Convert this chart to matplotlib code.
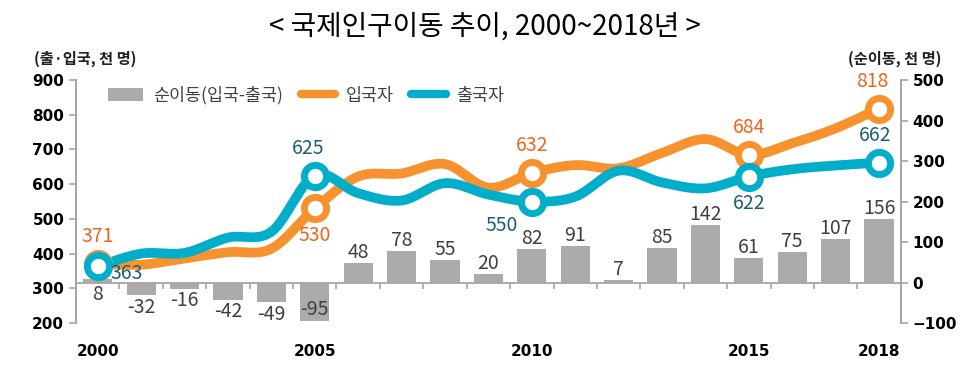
import numpy as np
import matplotlib
matplotlib.use("Agg")
import matplotlib.pyplot as plt
from matplotlib.patches import Patch
from matplotlib.lines import Line2D

plt.rcParams['font.family'] = ['Noto Sans CJK KR', 'DejaVu Sans']

years = list(range(2000, 2019))
inflow = [371, 368, 386, 404, 414, 530, 622, 631, 658, 590, 632, 655, 646, 690, 730, 684, 718, 761, 818]
outflow = [363, 400, 402, 446, 463, 625, 574, 553, 603, 570, 550, 564, 639, 605, 588, 622, 643, 654, 662]
net = [8, -32, -16, -42, -49, -95, 48, 78, 55, 20, 82, 91, 7, 85, 142, 61, 75, 107, 156]
label_years = [2000, 2005, 2010, 2015, 2018]
title = "< 국제인구이동 추이, 2000~2018년 >"
left_unit = "(출·입국, 천 명)"
right_unit = "(순이동, 천 명)"
legend_labels = ["순이동(입국-출국)", "입국자", "출국자"]

C_IN = "#F7922F"
C_OUT = "#00AEC9"
C_IN_TXT = "#F0641E"
C_OUT_TXT = "#1D5F72"
C_BAR = "#ABABAB"
C_AX = "#A6A6A6"
C_TXT = "#404040"


def smooth(x, y, n=30):
    x = np.asarray(x, float)
    y = np.asarray(y, float)
    px = np.concatenate([[x[0]], x, [x[-1]]])
    py = np.concatenate([[y[0]], y, [y[-1]]])
    xs, ys = [], []
    t = np.linspace(0, 1, n, endpoint=False)
    for i in range(1, len(px) - 2):
        p0x, p1x, p2x, p3x = px[i - 1], px[i], px[i + 1], px[i + 2]
        p0y, p1y, p2y, p3y = py[i - 1], py[i], py[i + 1], py[i + 2]
        c1x = p1x + (p2x - p0x) / 6
        c1y = p1y + (p2y - p0y) / 6
        c2x = p2x - (p3x - p1x) / 6
        c2y = p2y - (p3y - p1y) / 6
        b = lambda a, c1, c2, d: ((1 - t) ** 3) * a + 3 * ((1 - t) ** 2) * t * c1 + 3 * (1 - t) * t ** 2 * c2 + t ** 3 * d
        xs.append(b(p1x, c1x, c2x, p2x))
        ys.append(b(p1y, c1y, c2y, p2y))
    xs.append([x[-1]])
    ys.append([y[-1]])
    return np.concatenate(xs), np.concatenate(ys)


fig = plt.figure(figsize=(9.7, 3.76), dpi=100)
axb = fig.add_axes([0.0784, 0.141, 0.8502, 0.646])
axl = axb.twinx()

idx = np.arange(len(years))

# bars (right scale)
axb.bar(idx, net, width=0.67, color=C_BAR, zorder=2)
axb.set_ylim(-100, 500)
axb.set_xlim(-0.5, len(years) - 0.5)
axb.yaxis.tick_right()
axb.yaxis.set_label_position("right")
axb.set_yticks(range(-100, 501, 100))

# lines (left scale)
axl.set_ylim(200, 900)
axl.yaxis.tick_left()
axl.set_yticks(range(200, 901, 100))
for vals, col in [(inflow, C_IN), (outflow, C_OUT)]:
    sx, sy = smooth(idx, vals)
    axl.plot(sx, sy, color=col, lw=7, solid_capstyle='round', zorder=3)
    mk = [years.index(y) for y in label_years]
    axl.plot([idx[i] for i in mk], [vals[i] for i in mk], 'o', ms=16,
             mfc='white', mec=col, mew=5, zorder=4, linestyle='none')

# spines
for ax in (axb, axl):
    ax.spines['top'].set_visible(False)
    ax.spines['bottom'].set_visible(False)
    ax.spines['left'].set_color(C_AX)
    ax.spines['right'].set_color(C_AX)
    ax.spines['left'].set_linewidth(1.3)
    ax.spines['right'].set_linewidth(1.3)
axb.tick_params(axis='y', colors=C_AX, labelcolor='black', length=5, width=1.2, labelsize=11)
axl.tick_params(axis='y', colors=C_AX, labelcolor='black', length=5, width=1.2, labelsize=11)
for lab in axb.get_yticklabels() + axl.get_yticklabels():
    lab.set_fontweight('bold')
    lab.set_family(['DejaVu Sans'])

# x axis on zero line
axb.spines['bottom'].set_visible(True)
axb.spines['bottom'].set_position(('data', 0))
axb.spines['bottom'].set_color(C_AX)
axb.spines['bottom'].set_linewidth(1.3)
axb.set_xticks([years.index(y) for y in label_years])
axb.set_xticklabels([str(y) for y in label_years], fontweight='bold', fontsize=11, family=['DejaVu Sans'])
axb.set_xticks(np.arange(-0.5, len(years)), minor=True)
axb.tick_params(axis='x', which='major', length=0, pad=44, labelcolor='black')
axb.tick_params(axis='x', which='minor', length=4, width=1.2, color=C_AX, direction='out')

# bar labels
for i, v in enumerate(net):
    if v < -80:
        axb.annotate(str(v), (i, v), xytext=(0, 1), textcoords='offset points',
                     ha='center', va='bottom', fontsize=14, color=C_TXT, zorder=5)
    elif v < 0 or years[i] == 2000:
        axb.annotate(str(v), (i, min(v, 0)), xytext=(0, -1), textcoords='offset points',
                     ha='center', va='top', fontsize=14, color=C_TXT, zorder=5)
    else:
        axb.annotate(str(v), (i, v), xytext=(0, 0), textcoords='offset points',
                     ha='center', va='bottom', fontsize=14, color=C_TXT, zorder=5)

# line labels
in_off = {2000: (0, 12, 'bottom'), 2005: (0, -12, 'top'), 2010: (0, 12, 'bottom'),
          2015: (0, 12, 'bottom'), 2018: (-5, 12, 'bottom')}
out_off = {2000: (21, -5, 'center'), 2005: (-5, 12, 'bottom'), 2010: (-22, -10, 'top'),
           2015: (0, -12, 'top'), 2018: (-3, 12, 'bottom')}
for y in label_years:
    i = years.index(y)
    dx, dy, va = in_off[y]
    axl.annotate(str(inflow[i]), (i, inflow[i]), xytext=(dx, dy), textcoords='offset points',
                 ha='center', va=va, fontsize=14, color=C_IN_TXT, zorder=6)
    dx, dy, va = out_off[y]
    axl.annotate(str(outflow[i]), (i, outflow[i]), xytext=(dx, dy), textcoords='offset points',
                 ha='center', va=va, fontsize=14, color=C_OUT_TXT, zorder=6)

# legend
handles = [Patch(facecolor=C_BAR, edgecolor='none'),
           Line2D([0], [0], color=C_IN, lw=6, solid_capstyle='round'),
           Line2D([0], [0], color=C_OUT, lw=6, solid_capstyle='round')]
leg = axl.legend(handles, legend_labels, loc='upper left', bbox_to_anchor=(0.02, 1.04),
                 ncol=3, frameon=False, fontsize=12.5, handlelength=2.0, columnspacing=1.0,
                 handletextpad=0.6)
for t in leg.get_texts():
    t.set_color(C_TXT)

fig.text(0.5, 0.93, title, ha='center', va='center', fontsize=20, fontweight='medium', color='black')
fig.text(0.035, 0.843, left_unit, ha='left', va='center', fontsize=11, fontweight='bold', color='#202020')
fig.text(0.971, 0.843, right_unit, ha='right', va='center', fontsize=11, fontweight='bold', color='#202020')

fig.savefig("out.png", dpi=100)
